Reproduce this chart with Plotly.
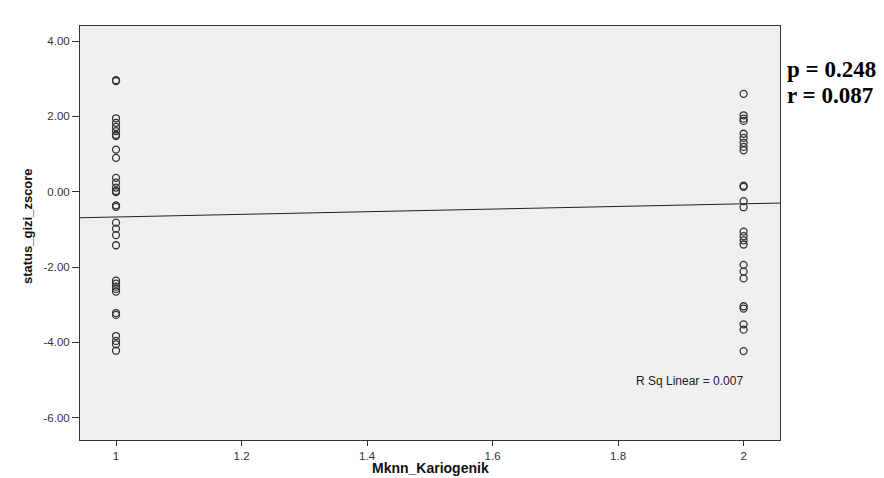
import plotly.graph_objects as go

# Data
group1_y = [2.96, 2.94,
            1.95, 1.83, 1.72, 1.61, 1.51, 1.48,
            1.12, 0.90,
            0.37, 0.24, 0.11, 0.02, -0.01,
            -0.36, -0.40,
            -0.82, -0.98, -1.15, -1.42,
            -2.36, -2.44, -2.52, -2.58, -2.65,
            -3.22, -3.27,
            -3.83, -3.96, -4.05, -4.22]
group1_x = [1] * len(group1_y)
group2_y = [2.60,
            2.03, 1.94, 1.88,
            1.54, 1.43,
            1.30, 1.19, 1.10,
            0.16, 0.13,
            -0.25, -0.41,
            -1.06, -1.18, -1.29, -1.40,
            -1.94, -2.12, -2.30,
            -3.04, -3.10,
            -3.52, -3.66,
            -4.23]
group2_x = [2] * len(group2_y)

fit_at_1 = -0.67
fit_at_2 = -0.32

x_range = [0.9426, 2.058]
y_range = [-6.59, 4.4]

x_ticks = [1, 1.2, 1.4, 1.6, 1.8, 2]
x_ticktext = ["1", "1.2", "1.4", "1.6", "1.8", "2"]
y_ticks = [-6, -4, -2, 0, 2, 4]
y_ticktext = ["-6.00", "-4.00", "-2.00", "0.00", "2.00", "4.00"]

slope = fit_at_2 - fit_at_1
fit_x = x_range
fit_y = [fit_at_1 + slope * (xv - 1) for xv in fit_x]

fig = go.Figure()
fig.add_trace(go.Scatter(x=fit_x, y=fit_y, mode="lines",
                         line=dict(color="#222222", width=1), hoverinfo="skip"))
fig.add_trace(go.Scatter(x=group1_x + group2_x, y=group1_y + group2_y, mode="markers",
                         marker=dict(symbol="circle-open", size=7,
                                     color="#333333", line=dict(width=1.3))))

axis_font = dict(family="Liberation Sans, Arial, sans-serif", size=11.5, color="#333333")
fig.update_layout(
    width=884, height=478,
    margin=dict(l=72, r=112, t=18, b=46),
    paper_bgcolor="white", plot_bgcolor="#f0f0f0",
    showlegend=False,
    xaxis=dict(range=x_range, tickvals=x_ticks, ticktext=x_ticktext,
               showgrid=False, zeroline=False, showline=True, linecolor="#333333",
               linewidth=1, mirror=True, ticks="outside", ticklen=5, tickcolor="#333333",
               tickfont=axis_font),
    yaxis=dict(range=y_range, tickvals=y_ticks, ticktext=y_ticktext,
               showgrid=False, zeroline=False, showline=True, linecolor="#333333",
               linewidth=1, mirror=True, ticks="outside", ticklen=7, tickcolor="#333333",
               tickfont=axis_font),
    annotations=[
        dict(text="<b>Mknn_Kariogenik</b>", xref="paper", yref="paper",
             x=0.5, y=-(460 - 432) / 414, xanchor="center", yanchor="middle", showarrow=False,
             borderpad=0,
             font=dict(family="Liberation Sans, Arial, sans-serif", size=14, color="#111111")),
        dict(text="<b>status_gizi_zscore</b>", xref="paper", yref="paper",
             x=-0.0757, y=(432 - 218) / 414, xanchor="center", yanchor="middle", textangle=-90,
             showarrow=False,
             font=dict(family="Liberation Sans, Arial, sans-serif", size=13, color="#111111")),
        dict(text="R Sq Linear = 0.007", xref="paper", yref="paper",
             x=(681 - 72) / 700, y=(432 - 373) / 414, xanchor="center", yanchor="middle",
             showarrow=False,
             font=dict(family="Liberation Sans, Arial, sans-serif", size=12, color="#222222")),
        dict(text="<b>p = 0.248</b>", xref="paper", yref="paper",
             x=(777 - 72) / 700, y=(432 - 61) / 414, xanchor="left", yanchor="middle",
             showarrow=False,
             font=dict(family="Liberation Serif, Times New Roman, serif", size=23, color="black")),
        dict(text="<b>r = 0.087</b>", xref="paper", yref="paper",
             x=(777 - 72) / 700, y=(432 - 88) / 414, xanchor="left", yanchor="middle",
             showarrow=False,
             font=dict(family="Liberation Serif, Times New Roman, serif", size=23, color="black")),
    ],
)

fig.write_html("out.html")
